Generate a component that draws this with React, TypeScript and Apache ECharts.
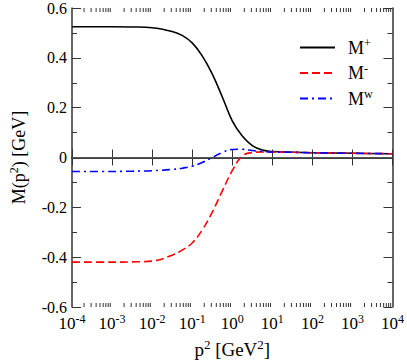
import React, { useEffect, useRef } from "react";
import * as echarts from "echarts";

// momentum squared p^2 [GeV^2]
const pValues = [1e-4, 1e-3, 3.16e-3, 1e-2, 3.16e-2, 5.62e-2, 0.1, 0.178, 0.316, 0.562, 1, 1.78, 3.16, 5.62, 10, 31.6, 100, 1000, 10000];
const mPlus = [0.525, 0.525, 0.524, 0.521, 0.506, 0.49, 0.46, 0.408, 0.336, 0.244, 0.147, 0.086, 0.048, 0.03, 0.024, 0.021, 0.019, 0.017, 0.015];
const mMinus = [-0.42, -0.42, -0.419, -0.416, -0.392, -0.372, -0.343, -0.291, -0.22, -0.135, -0.053, 0.006, 0.02, 0.022, 0.022, 0.021, 0.019, 0.017, 0.015];
const mW = [-0.056, -0.056, -0.055, -0.053, -0.048, -0.043, -0.035, -0.02, 0.0, 0.02, 0.032, 0.033, 0.028, 0.024, 0.022, 0.021, 0.019, 0.017, 0.015];

const seriesNames = ["M+", "M-", "Mw"];
const seriesSup = ["+", "-", "w"];
const decades = [1e-4, 1e-3, 1e-2, 1e-1, 1, 1e1, 1e2, 1e3];
const minorMultipliers = [2, 3, 4, 5, 6, 7, 8, 9];
const yMin = -0.6;
const yMax = 0.6;

const FONT = "'Liberation Serif', 'Times New Roman', serif";

export default function App() {
  const ref = useRef<HTMLDivElement>(null);
  useEffect(() => {
    document.body.style.margin = "0";
    const chart = echarts.init(ref.current!, null, { renderer: "svg" });
    const pairs = (ys: number[]) => pValues.map((p, i) => [p, ys[i]]);
    const minorTicks: number[][] = [];
    decades.forEach((d) => minorMultipliers.forEach((m) => minorTicks.push([d * m, 0])));

    const axisLine = { show: true, lineStyle: { color: "#333", width: 1.5 } };
    const xCommon = {
      type: "log" as const,
      logBase: 10,
      min: 1e-4,
      max: 1e4,
      splitNumber: 8,
      axisLine,
      axisTick: { show: true, inside: true, length: 8, lineStyle: { color: "#333", width: 1 } },
      splitLine: { show: false },
      minorTick: { show: false },
    };
    const yCommon = {
      type: "value" as const,
      min: yMin,
      max: yMax,
      interval: 0.2,
      axisLine,
      axisTick: { show: true, inside: true, length: 9, lineStyle: { color: "#333", width: 1 } },
      minorTick: { show: true, splitNumber: 2, length: 5, lineStyle: { color: "#333", width: 1 } },
      splitLine: { show: false },
    };
    const richBase = (size: number, supSize: number, lift: number) => ({
      b: { fontFamily: FONT, fontSize: size, color: "#000" },
      s: { fontFamily: FONT, fontSize: supSize, color: "#000", padding: [0, 0, lift, 0] },
    });

    chart.setOption({
      animation: false,
      backgroundColor: "#fff",
      textStyle: { fontFamily: FONT, color: "#000" },
      grid: { left: 58, top: 6, right: 11, bottom: 52, containLabel: false },
      legend: {
        data: seriesNames,
        orient: "vertical",
        left: 294,
        top: 32,
        itemWidth: 35,
        itemHeight: 14,
        itemGap: 6,
        itemStyle: { opacity: 0, borderWidth: 0 },
        formatter: (name: string) => {
          const i = seriesNames.indexOf(name);
          return "{b|M}{s|" + seriesSup[i] + "}";
        },
        textStyle: {
          fontFamily: FONT,
          rich: {
            b: { fontFamily: FONT, fontSize: 18, color: "#000", padding: [0, 0, 0, 8] },
            s: { fontFamily: FONT, fontSize: 12, color: "#000", padding: [0, 0, 9, 0] },
          },
        },
      },
      xAxis: [
        {
          ...xCommon,
          position: "bottom",
          name: "{b|p}{s|2}{b| [GeV}{s|2}{b|]}",
          nameLocation: "middle",
          nameGap: 31,
          nameTextStyle: { fontFamily: FONT, rich: richBase(19, 13, 10) },
          axisLabel: {
            margin: 6,
            fontFamily: FONT,
            formatter: (v: number) => "{b|10}{s|" + Math.round(Math.log10(v)) + "}",
            rich: richBase(17, 12, 9),
          },
        },
        {
          ...xCommon,
          position: "top",
          axisLabel: { show: false },
        },
      ],
      yAxis: [
        {
          ...yCommon,
          position: "left",
          name: "{b|M(p}{s|2}{b|) [GeV]}",
          nameLocation: "middle",
          nameGap: 42,
          nameRotate: 90,
          nameTextStyle: { fontFamily: FONT, rich: richBase(18, 12, 10) },
          axisLabel: {
            margin: 5,
            fontFamily: FONT,
            fontSize: 16,
            color: "#000",
            formatter: (v: number) => "{b|" + (Math.abs(v) < 1e-9 ? "0" : v.toFixed(1)) + "}",
            rich: richBase(16, 11, 9),
          },
        },
        {
          ...yCommon,
          position: "right",
          axisLabel: { show: false },
        },
      ],
      series: [
        {
          name: "M+",
          type: "line",
          data: pairs(mPlus),
          showSymbol: false,
          symbol: "none",
          smooth: 0.4,
          lineStyle: { color: "#000", width: 1.6, type: "solid" },
          itemStyle: { color: "#000" },
          markLine: {
            silent: true,
            symbol: "none",
            label: { show: false },
            lineStyle: { color: "#555", width: 1.2, type: "solid" },
            data: [{ yAxis: 0 }],
          },
          z: 3,
        },
        {
          name: "M-",
          type: "line",
          data: pairs(mMinus),
          showSymbol: false,
          symbol: "none",
          smooth: 0.4,
          lineStyle: { color: "#ff0000", width: 1.6, type: [8, 4] },
          itemStyle: { color: "#ff0000" },
          z: 4,
        },
        {
          name: "Mw",
          type: "line",
          data: pairs(mW),
          showSymbol: false,
          symbol: "none",
          smooth: 0.4,
          lineStyle: { color: "#0000ff", width: 1.6, type: [8, 4, 2, 4] },
          itemStyle: { color: "#0000ff" },
          z: 5,
        },
        {
          name: "minorTicks",
          type: "custom",
          silent: true,
          clip: false,
          data: minorTicks,
          renderItem: (params: any, api: any) => {
            const v = api.value(0);
            const b = api.coord([v, yMin]);
            const t = api.coord([v, yMax]);
            const style = { stroke: "#333", lineWidth: 1 };
            return {
              type: "group",
              children: [
                { type: "line", shape: { x1: b[0], y1: b[1], x2: b[0], y2: b[1] - 4 }, style },
                { type: "line", shape: { x1: t[0], y1: t[1], x2: t[0], y2: t[1] + 4 }, style },
              ],
            };
          },
        },
      ],
    });
    return () => chart.dispose();
  }, []);
  return <div ref={ref} style={{ position: "absolute", left: 0, top: 0, width: 407, height: 364 }} />;
}
